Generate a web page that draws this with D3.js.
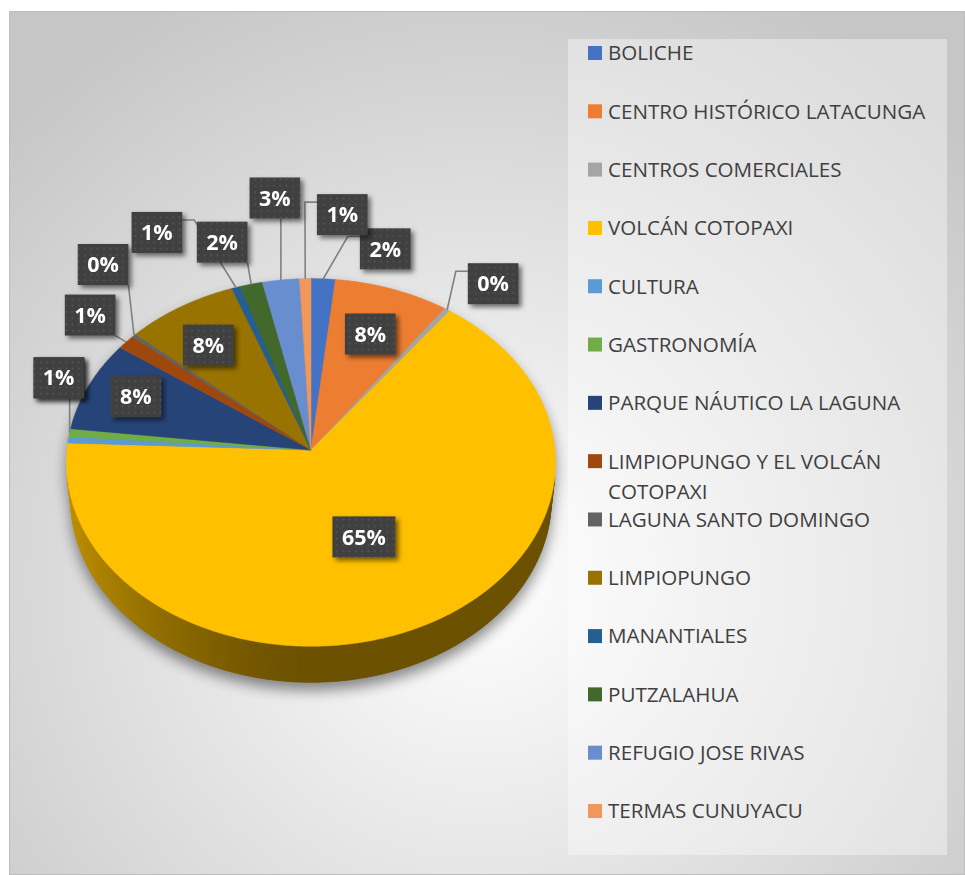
<!DOCTYPE html>
<html>
<head>
<meta charset="utf-8">
<script src="https://cdn.jsdelivr.net/npm/d3@7"></script>
<style>
  body { margin: 0; background: #fff; }
  svg { display: block; }
</style>
</head>
<body>
<svg width="965" height="875"></svg>
<script>
const categories = [
  "BOLICHE", "CENTRO HISTÓRICO LATACUNGA", "CENTROS COMERCIALES", "VOLCÁN COTOPAXI",
  "CULTURA", "GASTRONOMÍA", "PARQUE NÁUTICO LA LAGUNA", "LIMPIOPUNGO Y EL VOLCÁN COTOPAXI",
  "LAGUNA SANTO DOMINGO", "LIMPIOPUNGO", "MANANTIALES", "PUTZALAHUA",
  "REFUGIO JOSE RIVAS", "TERMAS CUNUYACU"
];
const values = [1.7, 8.1, 0.4, 65.3, 0.55, 0.7, 8.0, 1.3, 0.3, 7.9, 0.6, 1.6, 2.6, 0.8];
const colors = [
  "#4472C4", "#ED7D31", "#A5A5A5", "#FFC000", "#5B9BD5", "#70AD47", "#264478",
  "#9E480E", "#636363", "#997300", "#255E91", "#43682B", "#698ED0", "#F1975A"
];

// where Excel left each data label: offset from the slice's rim point, and how the leader is drawn
const labelDx = [62, -22, 46, -59, -9, -11, 47, -36, -31, 28, -79, -29, -6, 37];
const labelDy = [-30, 45, -26, -89, -62, -55, 11, -27, -71, 38, -55, -42, -82, -64];
const leaders = ["elbow", "none", "elbow", "none", "none", "straight", "none",
  "straight", "straight", "none", "elbow", "straight", "straight", "elbow"];

const width = 965, height = 875;
const svg = d3.select("svg");
const defs = svg.append("defs");

// chart area background
const bg = defs.append("radialGradient").attr("id", "bg")
  .attr("gradientUnits", "userSpaceOnUse")
  .attr("cx", 480).attr("cy", 580).attr("r", 660);
bg.append("stop").attr("offset", 0).attr("stop-color", "#ffffff");
bg.append("stop").attr("offset", 1).attr("stop-color", "#c6c6c6");

const dots = defs.append("pattern").attr("id", "dots")
  .attr("patternUnits", "userSpaceOnUse").attr("width", 6.3).attr("height", 6.3);
dots.append("rect").attr("width", 6.3).attr("height", 6.3).attr("fill", "#3f3f3f");
dots.append("circle").attr("cx", 3.1).attr("cy", 3.1).attr("r", 0.9).attr("fill", "#5a5a5a");

const lblShadow = defs.append("filter").attr("id", "lblShadow")
  .attr("x", "-30%").attr("y", "-30%").attr("width", "170%").attr("height", "170%");
lblShadow.append("feDropShadow").attr("dx", 3).attr("dy", 3).attr("stdDeviation", 2.5)
  .attr("flood-color", "#000").attr("flood-opacity", 0.55);

const pieShadow = defs.append("filter").attr("id", "pieShadow")
  .attr("x", "-20%").attr("y", "-20%").attr("width", "140%").attr("height", "140%");
pieShadow.append("feGaussianBlur").attr("stdDeviation", 7);

svg.append("rect")
  .attr("x", 9.5).attr("y", 11.5)
  .attr("width", width - 10).attr("height", height - 12)
  .attr("fill", "url(#bg)")
  .attr("stroke", "#bdbdbd");

// 3D pie geometry (tilted disc seen with a little perspective)
const cx = 311, cy = 450, R = 244, thick = 57, dist = 2386;
const sinT = 0.75, cosT = Math.sqrt(1 - sinT * sinT);

function project(a, r, h) {
  const x = r * Math.sin(a), z = -r * Math.cos(a);
  const Y = z * sinT - h * cosT;
  const D = z * cosT + h * sinT;
  const f = dist / (dist - D);
  return [cx + x * f, cy + Y * f];
}

function rim(a0, a1, h) {
  const n = Math.max(1, Math.ceil((a1 - a0) / (Math.PI / 360)));
  return d3.range(n + 1).map(k => project(a0 + (a1 - a0) * k / n, R, h));
}

function shade(c, a) {
  const k = 0.42 + 0.33 * Math.pow(Math.max(0, -Math.sin(a)), 1.5);
  const col = d3.rgb(c);
  return d3.rgb(col.r * k, col.g * k, col.b * k).formatHex();
}

const pie = d3.pie().sort(null).value(d => d)(values);
const total = d3.sum(values);
const pct = d3.format(".0%");
const line = d3.line();

// soft shadow under the pie
const outline = d3.polygonHull(rim(0, 2 * Math.PI, 0).concat(rim(0, 2 * Math.PI, -thick)));
svg.append("path")
  .attr("d", line(outline) + "Z")
  .attr("transform", "translate(0,8)")
  .attr("fill", "#000")
  .attr("opacity", 0.45)
  .attr("filter", "url(#pieShadow)");

// side wall
const quads = [];
pie.forEach((d, i) => {
  const n = Math.max(1, Math.ceil((d.endAngle - d.startAngle) / (Math.PI / 180)));
  for (let k = 0; k < n; k++) {
    const a0 = d.startAngle + (d.endAngle - d.startAngle) * k / n;
    const a1 = d.startAngle + (d.endAngle - d.startAngle) * (k + 1) / n;
    const p = [project(a0, R, 0), project(a1, R, 0), project(a1, R, -thick), project(a0, R, -thick)];
    const cross = (p[1][0] - p[0][0]) * (p[2][1] - p[1][1]) - (p[1][1] - p[0][1]) * (p[2][0] - p[1][0]);
    if (cross < 0) quads.push({ pts: p, color: shade(colors[i], (a0 + a1) / 2) });
  }
});

svg.append("g")
  .selectAll("path")
  .data(quads)
  .join("path")
  .attr("d", q => line(q.pts) + "Z")
  .attr("fill", q => q.color)
  .attr("stroke", q => q.color)
  .attr("stroke-width", 0.8);

// top face
svg.append("g")
  .selectAll("path")
  .data(pie)
  .join("path")
  .attr("d", d => line([project(0, 0, 0)].concat(rim(d.startAngle, d.endAngle, 0))) + "Z")
  .attr("fill", (d, i) => colors[i])
  .attr("stroke", (d, i) => colors[i])
  .attr("stroke-width", 0.5);

// data labels
const boxes = pie.map((d, i) => {
  const mid = (d.startAngle + d.endAngle) / 2;
  const anchor = project(mid, R, 0);
  return { d, i, anchor, x: anchor[0] + labelDx[i], y: anchor[1] + labelDy[i], text: pct(d.value / total) };
});

const gLeaders = svg.append("g");
const gLabels = svg.append("g");

boxes.forEach(b => {
  const g = gLabels.append("g").attr("filter", "url(#lblShadow)");
  const rect = g.append("rect").attr("fill", "url(#dots)");
  const t = g.append("text")
    .attr("x", b.x).attr("y", b.y)
    .attr("dy", "0.36em")
    .attr("text-anchor", "middle")
    .attr("font-family", "'Open Sans', sans-serif")
    .attr("font-weight", "bold")
    .attr("font-size", "21.5px")
    .attr("fill", "#fff")
    .text(b.text);
  const w = t.node().getComputedTextLength() + 19, h = 41;
  b.left = b.x - w / 2; b.right = b.x + w / 2; b.top = b.y - h / 2; b.bottom = b.y + h / 2;
  rect.attr("x", b.left).attr("y", b.top).attr("width", w).attr("height", h);
});

boxes.forEach(b => {
  const kind = leaders[b.i];
  if (kind === "none") return;
  const [ax, ay] = b.anchor;
  let pts;
  if (kind === "straight") {
    pts = [[Math.max(b.left, Math.min(b.right, ax)), Math.max(b.top, Math.min(b.bottom, ay))], [ax, ay]];
  } else {
    const onLeft = ax < b.left;
    const x0 = onLeft ? b.left : b.right;
    const x1 = onLeft ? x0 - 12 : x0 + 12;
    pts = [[x0, b.top + 8], [x1, b.top + 8], [ax, ay]];
  }
  gLeaders.append("path")
    .attr("d", line(pts))
    .attr("fill", "none")
    .attr("stroke", "#808080")
    .attr("stroke-width", 1.6);
});

// legend
svg.append("rect")
  .attr("x", 568).attr("y", 39).attr("width", 379).attr("height", 816)
  .attr("fill", "#fff").attr("opacity", 0.38);

const legendY = d3.scalePoint().domain(categories).range([53, 811]);
const legend = svg.append("g")
  .selectAll("g")
  .data(categories)
  .join("g")
  .attr("transform", d => `translate(588,${legendY(d)})`);

legend.append("rect")
  .attr("y", -7).attr("width", 14).attr("height", 14)
  .attr("fill", (d, i) => colors[i]);

legend.append("text")
  .attr("x", 20)
  .attr("dy", "0.36em")
  .attr("font-family", "'Open Sans', sans-serif")
  .attr("font-size", "20.6px")
  .attr("fill", "#404040")
  .each(function(d) {
    const text = d3.select(this);
    const words = d.split(" ");
    let current = [];
    let tspan = text.append("tspan").attr("x", 20);
    words.forEach(word => {
      current.push(word);
      tspan.text(current.join(" "));
      if (tspan.node().getComputedTextLength() > 330 && current.length > 1) {
        current.pop();
        tspan.text(current.join(" "));
        current = [word];
        tspan = text.append("tspan").attr("x", 20).attr("dy", "30px").text(word);
      }
    });
  });
</script>
</body>
</html>
